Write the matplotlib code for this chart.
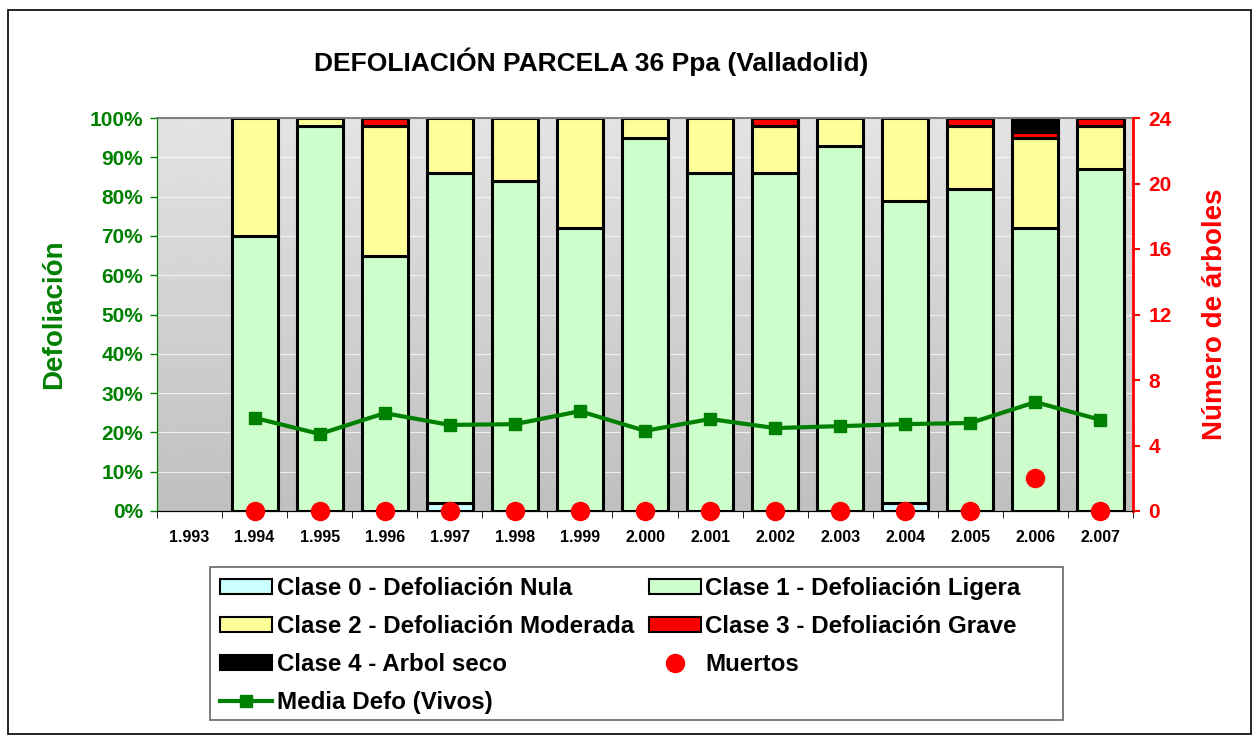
import numpy as np
import matplotlib.pyplot as plt
from matplotlib.patches import Patch, Rectangle
from matplotlib.lines import Line2D

plt.rcParams['font.family'] = ['Liberation Sans', 'DejaVu Sans']

years = ['1.993', '1.994', '1.995', '1.996', '1.997', '1.998', '1.999',
         '2.000', '2.001', '2.002', '2.003', '2.004', '2.005', '2.006', '2.007']

# percent of trees per class (1993 has no data)
clase0 = [0, 0, 0, 0, 2, 0, 0, 0, 0, 0, 0, 2, 0, 0, 0]
clase1 = [0, 70, 98, 65, 84, 84, 72, 95, 86, 86, 93, 77, 82, 72, 87]
clase2 = [0, 30, 2, 33, 14, 16, 28, 5, 14, 12, 7, 21, 16, 23, 11]
clase3 = [0, 0, 0, 2, 0, 0, 0, 0, 0, 2, 0, 0, 2, 1.5, 2]
clase4 = [0, 0, 0, 0, 0, 0, 0, 0, 0, 0, 0, 0, 0, 3.5, 0]
media_defo = [np.nan, 23.7, 19.6, 24.9, 21.9, 22.1, 25.4, 20.4, 23.4, 21.1, 21.6, 22.1, 22.4, 27.7, 23.2]
muertos = [np.nan, 0, 0, 0, 0, 0, 0, 0, 0, 0, 0, 0, 0, 2, 0]

c0, c1, c2, c3, c4 = '#ccffff', '#ccffcc', '#ffff99', '#ff0000', '#000000'
green = '#008000'

fig = plt.figure(figsize=(12.6, 7.35), dpi=100)
fig.patches.append(Rectangle((8 / 1260, 1 / 735), 1243 / 1260, 724 / 735, transform=fig.transFigure,
                             fill=False, edgecolor='black', linewidth=1.2))
ax = fig.add_axes([157 / 1260, 1 - 511 / 735, 976 / 1260, 393 / 735])

x = np.arange(len(years))
ax.set_xlim(-0.5, len(years) - 0.5)
ax.set_ylim(0, 100)

# gradient background of the plot area
ax.imshow(np.linspace(0.89, 0.75, 256).reshape(-1, 1), extent=[-0.5, len(years) - 0.5, 0, 100],
          aspect='auto', cmap='gray', vmin=0, vmax=1, origin='upper', zorder=0)
for g in range(10, 100, 10):
    ax.axhline(g, color='white', linewidth=0.8, alpha=0.7, zorder=1)

w = 0.71
bottom = np.zeros(len(years))
for vals, col in [(clase0, c0), (clase1, c1), (clase2, c2), (clase3, c3), (clase4, c4)]:
    v = np.array(vals, dtype=float)
    mask = v > 0
    ax.bar(x[mask], v[mask], w, bottom=bottom[mask], color=col, edgecolor='black',
           linewidth=2.2, zorder=2)
    bottom += v

ax.plot(x, media_defo, color=green, linewidth=3, marker='s', markersize=9, zorder=4)

ax2 = ax.twinx()
ax2.set_ylim(0, 24)
ax2.plot(x, muertos, linestyle='none', marker='o', color='red', markersize=13, zorder=5,
         clip_on=False)

ax.set_yticks(range(0, 101, 10))
ax.set_yticklabels([f'{v}%' for v in range(0, 101, 10)], color=green, fontsize=15,
                   fontweight='bold')
ax.set_xticks(x)
ax.set_xticklabels(years, fontsize=11.5, fontweight='bold')
ax.set_xticks(np.arange(-0.5, len(years), 1), minor=True)
ax.tick_params(axis='x', which='major', length=0, pad=14)
ax.tick_params(axis='x', which='minor', length=5, direction='out')
ax.tick_params(axis='y', colors=green, length=5, direction='out', width=1, pad=5)
ax.set_ylabel('Defoliación', color=green, fontsize=20, fontweight='bold', labelpad=16)

ax2.set_yticks(range(0, 25, 4))
ax2.set_yticklabels([str(v) for v in range(0, 25, 4)], color='red', fontsize=15,
                    fontweight='bold')
ax2.tick_params(axis='y', colors='red', length=5, direction='out', width=1.5, pad=6)
ax2.set_ylabel('Número de árboles', color='red', fontsize=20, fontweight='bold', labelpad=22)

ax.spines['left'].set_color(green)
ax.spines['top'].set_color('#808080')
ax.spines['top'].set_linewidth(1.5)
ax2.spines['left'].set_color(green)
ax2.spines['right'].set_color('red')
ax2.spines['right'].set_linewidth(2)
ax2.spines['top'].set_visible(False)
ax.spines['right'].set_visible(False)

fig.text(591 / 1260, 1 - 62 / 735, 'DEFOLIACIÓN PARCELA 36 Ppa (Valladolid)', fontsize=19,
         fontweight='bold', ha='center', va='center')

handles = [
    Patch(facecolor=c0, edgecolor='black', linewidth=1.5, label='Clase 0 - Defoliación Nula'),
    Patch(facecolor=c2, edgecolor='black', linewidth=1.5, label='Clase 2 - Defoliación Moderada'),
    Patch(facecolor=c4, edgecolor='black', linewidth=1.5, label='Clase 4 - Arbol seco'),
    Line2D([], [], color=green, linewidth=3, marker='s', markersize=9, label='Media Defo (Vivos)'),
    Patch(facecolor=c1, edgecolor='black', linewidth=1.5, label='Clase 1 - Defoliación Ligera'),
    Patch(facecolor=c3, edgecolor='black', linewidth=1.5, label='Clase 3 - Defoliación Grave'),
    Line2D([], [], linestyle='none', marker='o', color='red', markersize=13, label='Muertos'),
]
fig.legend(handles=handles, ncol=2, loc='upper left',
           bbox_to_anchor=(210 / 1260, 1 - 567 / 735), frameon=False,
           prop={'weight': 'bold', 'size': 17.4}, borderaxespad=0,
           handlelength=2.15, handleheight=0.6, handletextpad=0.2, columnspacing=0.6,
           labelspacing=0.62, borderpad=0.42)
# legend frame, wider than its content
fig.patches.append(Rectangle((210 / 1260, 1 - 720 / 735), 853 / 1260, 153 / 735,
                             transform=fig.transFigure, fill=False, edgecolor='#666666',
                             linewidth=1.2))

fig.savefig('out.png', dpi=100)
